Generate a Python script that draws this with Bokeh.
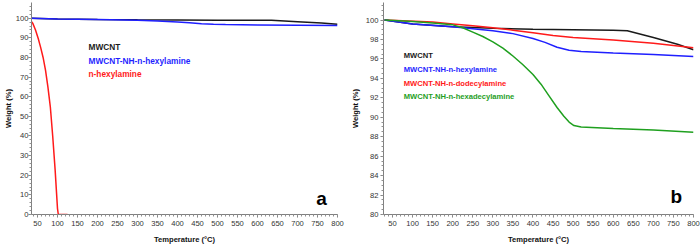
from bokeh.plotting import figure
from bokeh.layouts import row
from bokeh.models import FixedTicker, Label, Range1d
from bokeh.embed import file_html
from bokeh.resources import INLINE

# ---- data ----
t_mwcnt = [30, 100, 200, 300, 400, 500, 600, 635, 700, 760, 800]
w_mwcnt = [100, 99.6, 99.3, 99.15, 99.05, 99.0, 98.95, 98.9, 98.2, 97.5, 96.95]

t_hexyl = [30, 100, 200, 300, 350, 400, 430, 460, 490, 520, 600, 700, 800]
w_hexyl = [100, 99.6, 99.3, 98.9, 98.6, 98.1, 97.7, 97.2, 96.9, 96.75, 96.6, 96.45, 96.25]

t_dodec = [30, 150, 200, 250, 300, 350, 400, 450, 500, 600, 700, 800]
w_dodec = [100, 99.8, 99.6, 99.4, 99.2, 98.95, 98.7, 98.4, 98.2, 97.95, 97.6, 97.15]

t_hexadec = [30, 100, 150, 200, 225, 250, 275, 300, 325, 350, 375, 400, 420, 440, 460, 477, 490, 502, 520, 600, 700, 800]
w_hexadec = [100, 99.85, 99.7, 99.5, 99.2, 98.75, 98.3, 97.75, 97.1, 96.3, 95.4, 94.4, 93.4, 92.2, 91.0, 90.1, 89.5, 89.15, 89.0, 88.85, 88.7, 88.45]

t_amine = [28, 32, 38, 45, 52, 58, 64, 70, 76, 82, 88, 94, 100, 102, 125]
w_amine = [100, 99, 97.5, 94, 89.5, 85, 80, 73.5, 65, 55, 40, 23, 3, 0, 0]

x_ticks = list(range(50, 801, 50))
y_ticks_a = list(range(0, 101, 10))
y_ticks_b = list(range(80, 101, 2))

labels_a = ["MWCNT", "MWCNT-NH-n-hexylamine", "n-hexylamine"]
labels_b = ["MWCNT", "MWCNT-NH-n-hexylamine", "MWCNT-NH-n-dodecylamine", "MWCNT-NH-n-hexadecylamine"]
x_title = "Temperature (°C)"
y_title = "Weight (%)"

FONT = "Liberation Sans"
C_BLACK = "#1a1a1a"
C_BLUE = "#1f1fff"
C_RED = "#ff1a1a"
C_GREEN = "#1fa01f"


def style(p, yticks, yminor, ylab_std, ytitle_std):
    p.xaxis.ticker = FixedTicker(ticks=x_ticks, minor_ticks=list(range(30, 801, 10)))
    p.yaxis.ticker = FixedTicker(ticks=yticks, minor_ticks=yminor)
    p.grid.visible = False
    p.outline_line_color = None
    p.background_fill_color = "white"
    p.border_fill_color = "white"
    for ax in (p.xaxis, p.yaxis):
        ax.axis_line_color = "#808080"
        ax.major_tick_line_color = "#808080"
        ax.minor_tick_line_color = "#909090"
        ax.major_tick_out = 3
        ax.major_tick_in = 0
        ax.minor_tick_out = 2
        ax.minor_tick_in = 0
        ax.major_label_text_font = FONT
        ax.major_label_text_font_size = "7.6px"
        ax.major_label_text_color = "#333333"
        ax.axis_label_text_font = FONT
        ax.axis_label_text_font_style = "bold"
        ax.axis_label_text_font_size = "7.6px"
        ax.axis_label_text_color = "#111111"
    p.xaxis.axis_label = x_title
    p.yaxis.axis_label = y_title
    p.xaxis.major_label_standoff = 3
    p.xaxis.axis_label_standoff = 6
    p.yaxis.major_label_standoff = ylab_std
    p.yaxis.axis_label_standoff = ytitle_std


# ---- panel a ----
pa = figure(width=347, height=247, output_backend="svg", toolbar_location=None,
            x_range=Range1d(35, 800), y_range=Range1d(0, 108),
            min_border_left=28, min_border_right=10, min_border_top=2, min_border_bottom=33)
style(pa, y_ticks_a, list(range(0, 107, 2)), 0, 0)
pa.line(t_mwcnt, w_mwcnt, line_color=C_BLACK, line_width=1.5)
pa.line(t_hexyl, w_hexyl, line_color=C_BLUE, line_width=1.5)
pa.line(t_amine, w_amine, line_color=C_RED, line_width=1.5)
for txt, yy, col in zip(labels_a, [85.4, 78.4, 71.4], [C_BLACK, C_BLUE, C_RED]):
    pa.add_layout(Label(x=177.5, y=yy, text=txt, text_font=FONT, text_font_style="bold",
                        text_font_size="8.3px", text_color=col, text_baseline="alphabetic"))
pa.add_layout(Label(x=747, y=8.2, text="a", text_font=FONT, text_font_style="bold",
                    text_font_size="19px", text_color="#000000", text_baseline="alphabetic"))

# ---- panel b ----
pb = figure(width=353, height=247, output_backend="svg", toolbar_location=None,
            x_range=Range1d(27.5, 800), y_range=Range1d(80, 101.8),
            min_border_left=33, min_border_right=7, min_border_top=2, min_border_bottom=33)
ym = [80 + 0.5 * i for i in range(0, 44)]
style(pb, y_ticks_b, ym, 2, 3)
pb.line(t_mwcnt, w_mwcnt, line_color=C_BLACK, line_width=1.5)
pb.line(t_dodec, w_dodec, line_color=C_RED, line_width=1.5)
pb.line(t_hexyl, w_hexyl, line_color=C_BLUE, line_width=1.5)
pb.line(t_hexadec, w_hexadec, line_color=C_GREEN, line_width=1.5)
for txt, yy, col in zip(labels_b, [96.3, 94.9, 93.5, 92.1], [C_BLACK, C_BLUE, C_RED, C_GREEN]):
    pb.add_layout(Label(x=78, y=yy, text=txt, text_font=FONT, text_font_style="bold",
                        text_font_size="7.6px", text_color=col, text_baseline="alphabetic"))
pb.add_layout(Label(x=742.7, y=81.85, text="b", text_font=FONT, text_font_style="bold",
                    text_font_size="19px", text_color="#000000", text_baseline="alphabetic"))

layout = row(pa, pb)
open("out.html", "w").write(file_html(layout, INLINE))
